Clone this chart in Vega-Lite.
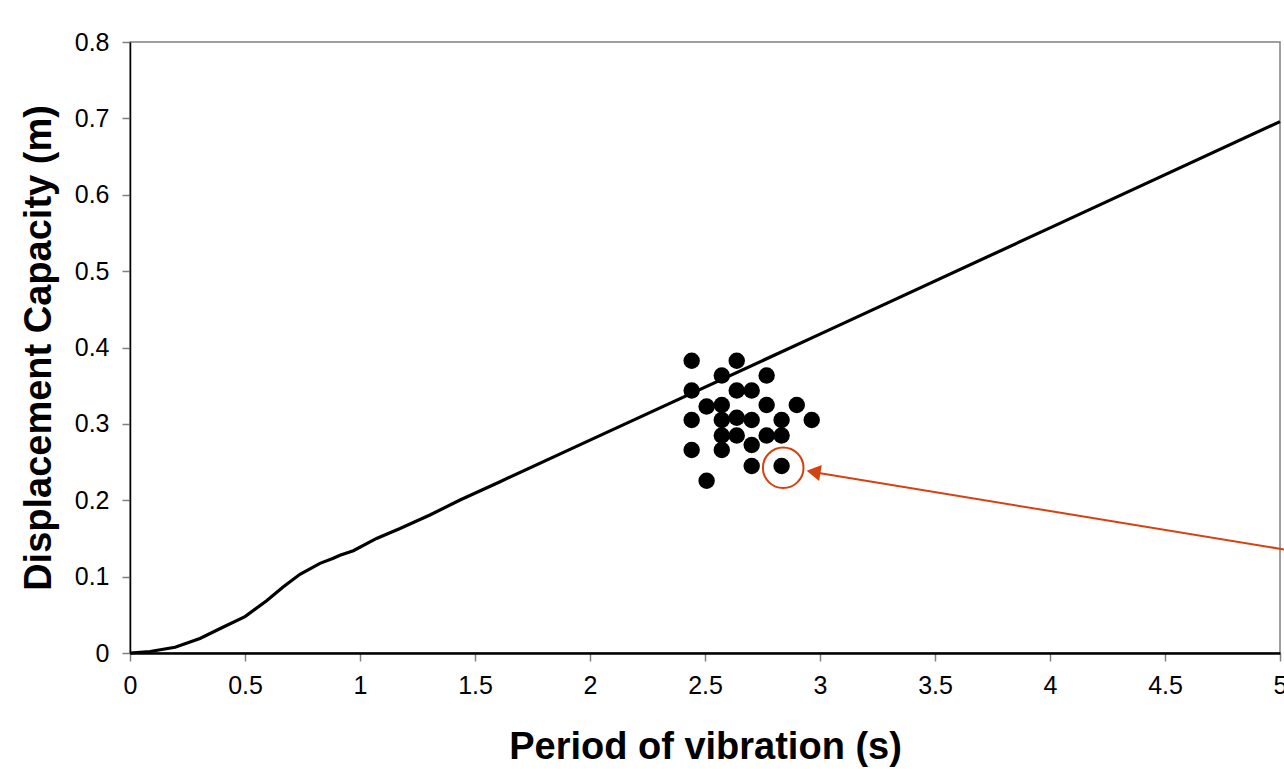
{
  "$schema": "https://vega.github.io/schema/vega-lite/v6.json",
  "width": 1150,
  "height": 611,
  "autosize": {"type": "none"},
  "padding": {"left": 130, "top": 42, "right": 4, "bottom": 116},
  "background": "white",
  "datasets": {
    "curve": [
      {"period": 0, "disp": 0},
      {"period": 0.087, "disp": 0.002},
      {"period": 0.196, "disp": 0.0075},
      {"period": 0.304, "disp": 0.019},
      {"period": 0.406, "disp": 0.034},
      {"period": 0.5, "disp": 0.0476},
      {"period": 0.594, "disp": 0.0685},
      {"period": 0.667, "disp": 0.0868},
      {"period": 0.739, "disp": 0.103},
      {"period": 0.826, "disp": 0.1174},
      {"period": 0.884, "disp": 0.124},
      {"period": 0.913, "disp": 0.128},
      {"period": 0.971, "disp": 0.134},
      {"period": 1.072, "disp": 0.15},
      {"period": 1.174, "disp": 0.163},
      {"period": 1.304, "disp": 0.1807},
      {"period": 1.435, "disp": 0.2003},
      {"period": 1.609, "disp": 0.2243},
      {"period": 2.0, "disp": 0.2787},
      {"period": 3.0, "disp": 0.4175},
      {"period": 4.0, "disp": 0.5566},
      {"period": 5.0, "disp": 0.6957}
    ],
    "points": [
      {"period": 2.442, "disp": 0.3827},
      {"period": 2.638, "disp": 0.3827},
      {"period": 2.573, "disp": 0.3633},
      {"period": 2.768, "disp": 0.3633},
      {"period": 2.442, "disp": 0.3437},
      {"period": 2.638, "disp": 0.3437},
      {"period": 2.703, "disp": 0.3437},
      {"period": 2.507, "disp": 0.3227},
      {"period": 2.573, "disp": 0.3247},
      {"period": 2.768, "disp": 0.3247},
      {"period": 2.899, "disp": 0.3247},
      {"period": 2.442, "disp": 0.3051},
      {"period": 2.573, "disp": 0.3051},
      {"period": 2.638, "disp": 0.308},
      {"period": 2.703, "disp": 0.3051},
      {"period": 2.833, "disp": 0.3051},
      {"period": 2.964, "disp": 0.3051},
      {"period": 2.573, "disp": 0.2848},
      {"period": 2.638, "disp": 0.2848},
      {"period": 2.768, "disp": 0.2848},
      {"period": 2.833, "disp": 0.2848},
      {"period": 2.442, "disp": 0.2658},
      {"period": 2.573, "disp": 0.2658},
      {"period": 2.703, "disp": 0.2723},
      {"period": 2.703, "disp": 0.2448},
      {"period": 2.833, "disp": 0.2448},
      {"period": 2.507, "disp": 0.2256}
    ],
    "highlight": [{"period": 2.84, "disp": 0.2425}],
    "arrow": [{"period": 5.02, "disp": 0.1355, "period2": 2.975, "disp2": 0.2366}],
    "arrowhead": [{"period": 2.972, "disp": 0.2372}]
  },
  "encoding": {
    "x": {
      "field": "period",
      "type": "quantitative",
      "scale": {"domain": [0, 5], "nice": false, "zero": false},
      "axis": {
        "title": "Period of vibration (s)",
        "values": [0, 0.5, 1, 1.5, 2, 2.5, 3, 3.5, 4, 4.5, 5],
        "format": ".1~f",
        "domainWidth": 2.5,
        "labelPadding": 12,
        "titlePadding": 30
      }
    },
    "y": {
      "field": "disp",
      "type": "quantitative",
      "scale": {"domain": [0, 0.8], "nice": false, "zero": false},
      "axis": {
        "title": "Displacement Capacity (m)",
        "values": [0, 0.1, 0.2, 0.3, 0.4, 0.5, 0.6, 0.7, 0.8],
        "format": ".1~f",
        "domainWidth": 1.5,
        "labelPadding": 13,
        "titlePadding": 16
      }
    }
  },
  "layer": [
    {
      "data": {"name": "curve"},
      "mark": {"type": "line", "color": "black", "strokeWidth": 3.2}
    },
    {
      "data": {"name": "points"},
      "mark": {"type": "circle", "color": "black", "opacity": 1, "size": 270}
    },
    {
      "data": {"name": "highlight"},
      "mark": {"type": "point", "shape": "circle", "color": "#d4420f", "strokeWidth": 2, "size": 1650, "filled": false, "opacity": 1}
    },
    {
      "data": {"name": "arrow"},
      "mark": {"type": "rule", "color": "#d4420f", "strokeWidth": 2, "clip": false},
      "encoding": {
        "x2": {"field": "period2"},
        "y2": {"field": "disp2"}
      }
    },
    {
      "data": {"name": "arrowhead"},
      "mark": {"type": "point", "shape": "triangle-up", "filled": true, "color": "#d4420f", "opacity": 1, "size": 260, "angle": 279.3}
    }
  ],
  "config": {
    "view": {"stroke": "#808080", "strokeWidth": 1.5},
    "axis": {
      "grid": false,
      "labelFlush": false,
      "labelOverlap": false,
      "domainColor": "black",
      "tickColor": "#808080",
      "tickWidth": 1.5,
      "tickSize": 8,
      "labelFont": "Liberation Sans",
      "labelFontSize": 25,
      "labelColor": "black",
      "titleFont": "Liberation Sans",
      "titleFontWeight": "bold",
      "titleFontSize": 38,
      "titleColor": "black"
    }
  }
}
